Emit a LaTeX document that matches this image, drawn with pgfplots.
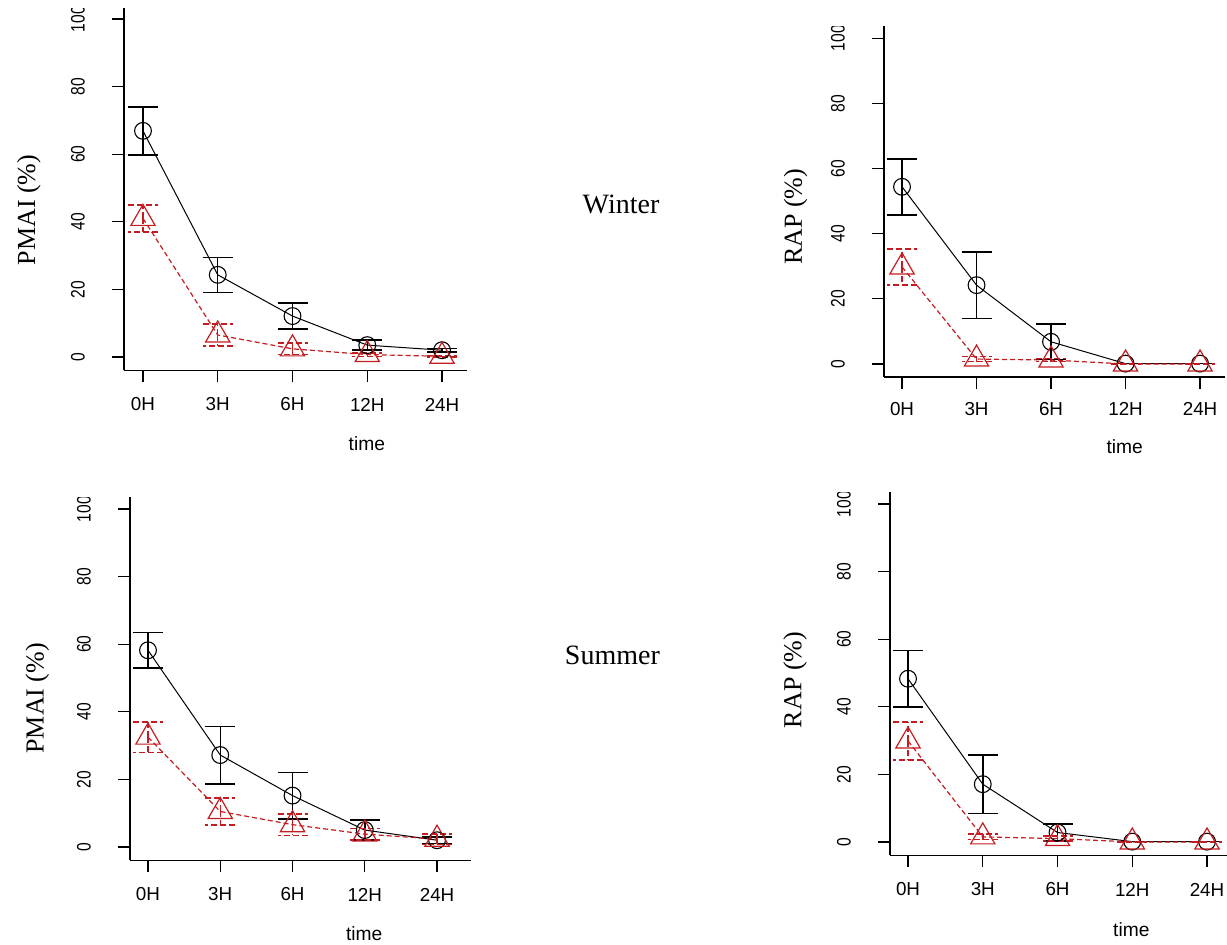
\documentclass[border=0pt]{standalone}
\usepackage{pgfplots}
\pgfplotsset{compat=1.18}
\usepackage{pgfplotstable}
\usepackage{fontspec}
\setmainfont{Liberation Serif}
\newfontfamily\arial{Liberation Sans}
\definecolor{rred}{RGB}{196,28,32}

\pgfplotstableread{
x y e
1 66.9 7.1
2 24.3 5.2
3 12.1 3.8
4 3.5 1.5
5 2.0 0.5
}\wpb
\pgfplotstableread{
x y e
1 41.0 4.0
2 6.5 3.2
3 2.4 1.7
4 0.7 0.5
5 0.2 0.2
}\wpr
\pgfplotstableread{
x y e
1 54.4 8.6
2 24.2 10.2
3 6.8 5.5
4 0.1 0.0
5 0.1 0.0
}\wrb
\pgfplotstableread{
x y e
1 29.8 5.5
2 1.5 0.8
3 1.2 0.5
4 0.0 0.0
5 0.0 0.0
}\wrr
\pgfplotstableread{
x y e
1 58.2 5.3
2 27.2 8.5
3 15.2 6.9
4 5.0 3.0
5 2.0 1.0
}\spb
\pgfplotstableread{
x y e
1 32.5 4.5
2 10.5 4.0
3 6.6 3.2
4 3.8 1.7
5 2.3 1.5
}\spr
\pgfplotstableread{
x y e
1 48.3 8.4
2 17.1 8.7
3 2.8 2.5
4 0.1 0.0
5 0.1 0.0
}\srb
\pgfplotstableread{
x y e
1 29.9 5.6
2 1.5 0.8
3 1.0 0.7
4 0.0 0.0
5 0.0 0.0
}\srr

\pgfplotsset{
  panel/.style={
    scale only axis,
    anchor=south west,
    axis x line*=bottom, axis y line*=left,
    ymin=-4, ymax=104,
    xtick={1,2,3,4,5}, xticklabels={0H,3H,6H,12H,24H},
    ytick={0,20,40,60,80,100},
    /pgf/number format/assume math mode=true,
    tick align=outside,
    major tick length=6pt,
    tick style={black, line width=0.6pt},
    axis line style={line width=0.75pt, black},
    x tick label style={font=\arial\fontsize{9.4}{11}\selectfont, anchor=center, yshift=-11pt},
    y tick label style={font=\arial\fontsize{7.8}{9}\selectfont, xshift=-17pt, rotate=90, yscale=1.25, anchor=center},
    xlabel={time},
    xlabel style={font=\arial\fontsize{9.6}{11}\selectfont, anchor=center},
    ylabel style={font=\fontsize{13}{15}\selectfont, anchor=center},
    clip=false,
  },
  bl/.style={black, line width=0.5pt, mark=o, mark size=4.2pt,
    mark options={solid, line width=0.55pt},
    error bars/.cd, y dir=both, y explicit, error mark=|,
    error bar style={line width=0.75pt, solid, black},
    error mark options={mark size=7.5pt, line width=0.75pt, black, solid}},
  rd/.style={rred, dash pattern=on 2.5pt off 1.5pt, line width=0.6pt, mark=triangle, mark size=7pt,
    mark options={solid, line width=0.6pt},
    error bars/.cd, y dir=both, y explicit, error mark=|,
    error bar style={line width=0.75pt, rred, dash pattern=on 3pt off 1.5pt},
    error mark options={mark size=7.5pt, line width=0.75pt, rred, dash pattern=on 3pt off 1.5pt}},
}

\begin{document}
\begin{tikzpicture}
\useasboundingbox (0,0) rectangle (613.5pt,472.5pt);

% Winter PMAI
\begin{scope}
\clip (0pt,235pt) rectangle (300pt,468pt);
\begin{axis}[panel, at={(62pt,287.25pt)}, width=171.5pt, height=182.5pt,
  xmin=0.746, xmax=5.334,
  ylabel={PMAI (\%)},
  xlabel style={at={(axis description cs:0.708,-0.2014)}},
  ylabel style={at={(axis description cs:-0.2776,0.4397)}}]
\addplot[bl] table[x=x,y=y,y error=e]{\wpb};
\addplot[rd] table[x=x,y=y,y error=e]{\wpr};
\end{axis}
\end{scope}

% Winter RAP
\begin{scope}
\clip (350pt,235pt) rectangle (613.5pt,459pt);
\begin{axis}[panel, at={(442pt,284pt)}, width=170.5pt, height=175.85pt,
  xmin=0.758, xmax=5.335,
  ylabel={RAP (\%)},
  x tick label style={yshift=1pt},
  xlabel style={at={(axis description cs:0.706,-0.199)}},
  ylabel style={at={(axis description cs:-0.2595,0.4558)}}]
\addplot[bl] table[x=x,y=y,y error=e]{\wrb};
\addplot[rd] table[x=x,y=y,y error=e]{\wrr};
\end{axis}
\end{scope}

% Summer PMAI
\begin{scope}
\clip (0pt,0pt) rectangle (300pt,223.5pt);
\begin{axis}[panel, at={(65pt,42.25pt)}, width=170.5pt, height=182.5pt,
  xmin=0.751, xmax=5.47,
  ylabel={PMAI (\%)},
  xlabel style={at={(axis description cs:0.687,-0.2014)}},
  ylabel style={at={(axis description cs:-0.2713,0.4444)}}]
\addplot[bl] table[x=x,y=y,y error=e]{\spb};
\addplot[rd] table[x=x,y=y,y error=e]{\spr};
\end{axis}
\end{scope}

% Summer RAP
\begin{scope}
\clip (350pt,0pt) rectangle (613.5pt,226pt);
\begin{axis}[panel, at={(445pt,44.75pt)}, width=171pt, height=182.5pt,
  xmin=0.759, xmax=5.334,
  ylabel={RAP (\%)},
  xlabel style={at={(axis description cs:0.7056,-0.2033)}},
  ylabel style={at={(axis description cs:-0.2778,0.4808)}}]
\addplot[bl] table[x=x,y=y,y error=e]{\srb};
\addplot[rd] table[x=x,y=y,y error=e]{\srr};
\end{axis}
\end{scope}

\node[anchor=base, font=\fontsize{14}{16}\selectfont, inner sep=0pt] at (310.5pt,365.85pt) {Winter};
\node[anchor=base, font=\fontsize{14}{16}\selectfont, inner sep=0pt] at (306.2pt,140.35pt) {Summer};
\end{tikzpicture}
\end{document}
